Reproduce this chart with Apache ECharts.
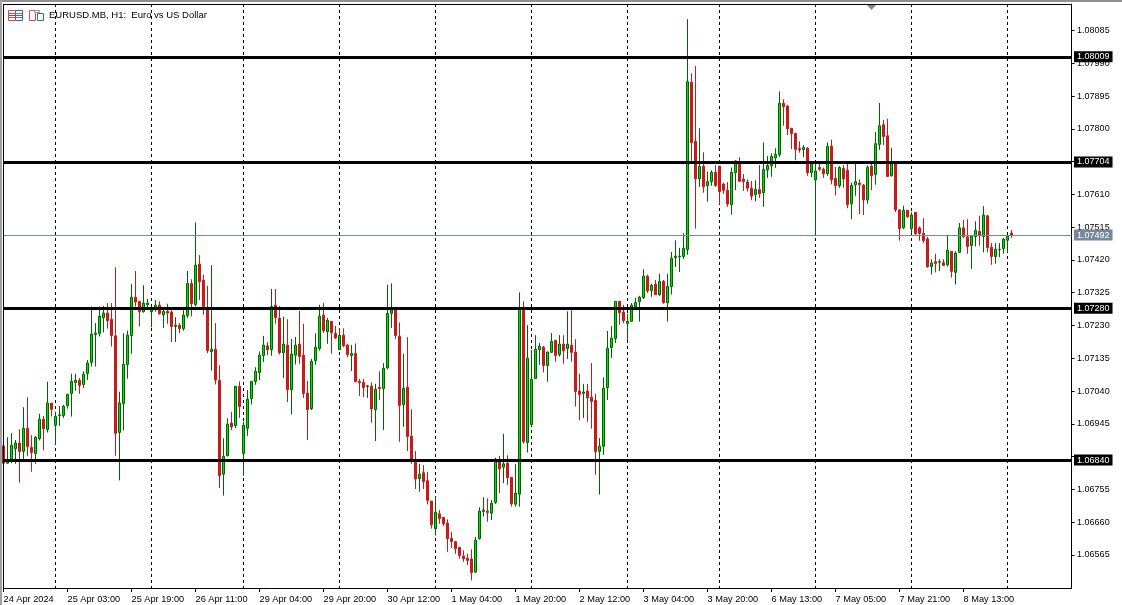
<!DOCTYPE html>
<html>
<head>
<meta charset="utf-8">
<title>EURUSD.MB, H1</title>
<script src="https://cdn.jsdelivr.net/npm/echarts@6/dist/echarts.min.js"></script>
<style>
  html, body { margin: 0; padding: 0; background: #fff; }
  #chart { width: 1122px; height: 605px; }
</style>
</head>
<body>
<div id="chart"></div>
<script>
// hourly bars, 24 Apr 11:00 to 9 May 01:00, one row = 10 bars
const opens = [
  1.06881,1.06831,1.06839,1.06873,1.06889,1.06865,1.06932,1.06877,1.06859,1.06902,
  1.06958,1.06928,1.07005,1.06941,1.06969,1.06969,1.06998,1.07033,1.07065,1.07071,
  1.07059,1.07091,1.07123,1.07204,1.07207,1.07253,1.07266,1.07248,1.07200,1.06920,
  1.07004,1.07117,1.07201,1.07312,1.07300,1.07270,1.07290,1.07270,1.07280,1.07289,
  1.07261,1.07271,1.07269,1.07227,1.07231,1.07221,1.07259,1.07352,1.07291,1.07408,
  1.07361,1.07275,1.07154,1.07161,1.07071,1.06799,1.06853,1.06947,1.06939,1.07054,
  1.06859,1.06932,1.07018,1.07068,1.07094,1.07143,1.07171,1.07160,1.07289,1.07251,
  1.07151,1.07173,1.07044,1.07144,1.07176,1.07144,1.07034,1.06989,1.07128,1.07163,
  1.07260,1.07212,1.07242,1.07207,1.07160,1.07202,1.07173,1.07143,1.07149,1.07068,
  1.07065,1.07053,1.07054,1.06986,1.07051,1.07047,1.07107,1.07265,1.07277,1.07199,
  1.07001,1.07051,1.06909,1.06836,1.06786,1.06803,1.06780,1.06721,1.06641,1.06684,
  1.06674,1.06657,1.06613,1.06603,1.06587,1.06562,1.06555,1.06553,1.06515,1.06612,
  1.06691,1.06692,1.06686,1.06717,1.06838,1.06819,1.06831,1.06790,1.06712,1.06741,
  1.07280,1.06891,1.06943,1.07076,1.07160,1.07167,1.07114,1.07152,1.07187,1.07146,
  1.07176,1.07163,1.07173,1.07153,1.07040,1.07033,1.07040,1.07022,1.07013,1.06865,
  1.06880,1.07050,1.07166,1.07192,1.07300,1.07269,1.07236,1.07242,1.07285,1.07299,
  1.07311,1.07373,1.07331,1.07350,1.07319,1.07358,1.07296,1.07343,1.07427,1.07429,
  1.07430,1.07450,1.07935,1.07764,1.07655,1.07692,1.07635,1.07647,1.07674,1.07692,
  1.07640,1.07622,1.07580,1.07673,1.07703,1.07654,1.07646,1.07628,1.07609,1.07624,
  1.07615,1.07681,1.07693,1.07716,1.07725,1.07874,1.07866,1.07802,1.07787,1.07743,
  1.07740,1.07744,1.07673,1.07652,1.07688,1.07683,1.07670,1.07750,1.07656,1.07635,
  1.07685,1.07680,1.07583,1.07638,1.07643,1.07637,1.07594,1.07692,1.07668,1.07755,
  1.07812,1.07780,1.07664,1.07699,1.07565,1.07513,1.07564,1.07511,1.07558,1.07513,
  1.07497,1.07481,1.07401,1.07415,1.07413,1.07412,1.07406,1.07445,1.07384,1.07442,
  1.07513,1.07487,1.07462,1.07488,1.07503,1.07488,1.07548,1.07457,1.07430,1.07450,
  1.07453,1.07477,1.07498
]
const closes = [
  1.06831,1.06836,1.06883,1.06889,1.06865,1.06932,1.06879,1.06862,1.06906,1.06958,
  1.06931,1.07005,1.06987,1.06967,1.06971,1.06996,1.07031,1.07068,1.07071,1.07056,
  1.07089,1.07121,1.07205,1.07208,1.07257,1.07266,1.07244,1.07201,1.06917,1.07005,
  1.07118,1.07202,1.07312,1.07298,1.07270,1.07295,1.07295,1.07275,1.07289,1.07264,
  1.07271,1.07266,1.07227,1.07231,1.07221,1.07260,1.07352,1.07293,1.07405,1.07357,
  1.07285,1.07157,1.07161,1.07072,1.06795,1.06851,1.06944,1.06936,1.07054,1.06995,
  1.06941,1.07016,1.07068,1.07097,1.07144,1.07173,1.07160,1.07285,1.07253,1.07151,
  1.07176,1.07044,1.07147,1.07173,1.07140,1.07033,1.06986,1.07126,1.07167,1.07257,
  1.07215,1.07245,1.07209,1.07194,1.07202,1.07171,1.07146,1.07149,1.07067,1.07064,
  1.07050,1.07055,1.06988,1.07045,1.07047,1.07106,1.07265,1.07275,1.07201,1.06998,
  1.07048,1.06908,1.06840,1.06785,1.06799,1.06777,1.06723,1.06652,1.06689,1.06670,
  1.06655,1.06612,1.06604,1.06583,1.06563,1.06554,1.06549,1.06514,1.06608,1.06692,
  1.06695,1.06688,1.06715,1.06843,1.06814,1.06829,1.06789,1.06713,1.06744,1.07280,
  1.06893,1.07135,1.07074,1.07161,1.07170,1.07114,1.07153,1.07184,1.07143,1.07176,
  1.07157,1.07176,1.07152,1.07039,1.07030,1.07037,1.07021,1.07010,1.06865,1.06880,
  1.07048,1.07164,1.07193,1.07300,1.07267,1.07244,1.07242,1.07289,1.07297,1.07312,
  1.07373,1.07330,1.07347,1.07319,1.07358,1.07296,1.07343,1.07425,1.07431,1.07431,
  1.07453,1.07937,1.07760,1.07655,1.07691,1.07632,1.07647,1.07674,1.07636,1.07618,
  1.07622,1.07582,1.07674,1.07707,1.07648,1.07647,1.07628,1.07605,1.07624,1.07612,
  1.07682,1.07694,1.07720,1.07726,1.07874,1.07864,1.07800,1.07786,1.07741,1.07739,
  1.07746,1.07673,1.07700,1.07678,1.07683,1.07670,1.07749,1.07652,1.07635,1.07688,
  1.07655,1.07580,1.07636,1.07647,1.07638,1.07594,1.07688,1.07664,1.07757,1.07809,
  1.07778,1.07662,1.07699,1.07565,1.07511,1.07564,1.07545,1.07550,1.07496,1.07497,
  1.07476,1.07400,1.07411,1.07410,1.07415,1.07404,1.07448,1.07387,1.07440,1.07513,
  1.07487,1.07459,1.07489,1.07506,1.07490,1.07550,1.07456,1.07430,1.07451,1.07451,
  1.07480,1.07489,1.07492
]
const lows = [
  1.06829,1.06829,1.06831,1.06829,1.06774,1.06842,1.06852,1.06806,1.06829,1.06897,
  1.06868,1.06920,1.06966,1.06885,1.06939,1.06962,1.06989,1.06966,1.07041,1.07032,
  1.07049,1.07072,1.07111,1.07111,1.07198,1.07210,1.07221,1.07169,1.06852,1.06781,
  1.06926,1.07076,1.07148,1.07285,1.07227,1.07267,1.07280,1.07225,1.07270,1.07261,
  1.07223,1.07235,1.07182,1.07182,1.07208,1.07215,1.07252,1.07256,1.07285,1.07304,
  1.07261,1.07150,1.07099,1.07059,1.06759,1.06737,1.06850,1.06927,1.06933,1.06962,
  1.06794,1.06910,1.07001,1.07058,1.07072,1.07124,1.07144,1.07142,1.07235,1.07146,
  1.07078,1.07008,1.06972,1.07117,1.07119,1.07020,1.06898,1.06985,1.07116,1.07157,
  1.07208,1.07177,1.07148,1.07191,1.07159,1.07167,1.07138,1.07098,1.07066,1.07026,
  1.07022,1.07020,1.06948,1.06895,1.07014,1.06927,1.07103,1.07223,1.07191,1.06893,
  1.06936,1.06866,1.06829,1.06756,1.06748,1.06756,1.06711,1.06641,1.06621,1.06655,
  1.06649,1.06574,1.06585,1.06568,1.06554,1.06545,1.06535,1.06491,1.06514,1.06609,
  1.06676,1.06661,1.06666,1.06713,1.06744,1.06773,1.06768,1.06705,1.06705,1.06705,
  1.06887,1.06862,1.06937,1.07075,1.07116,1.07094,1.07067,1.07152,1.07125,1.07140,
  1.07119,1.07133,1.07125,1.06995,1.06955,1.06962,1.06951,1.06931,1.06797,1.06740,
  1.06855,1.07014,1.07136,1.07179,1.07232,1.07237,1.07188,1.07241,1.07279,1.07241,
  1.07307,1.07324,1.07313,1.07319,1.07316,1.07293,1.07241,1.07320,1.07400,1.07385,
  1.07423,1.07435,1.07704,1.07511,1.07632,1.07615,1.07589,1.07635,1.07632,1.07582,
  1.07611,1.07574,1.07551,1.07622,1.07646,1.07620,1.07618,1.07593,1.07590,1.07600,
  1.07574,1.07658,1.07661,1.07687,1.07719,1.07809,1.07782,1.07741,1.07709,1.07731,
  1.07718,1.07664,1.07660,1.07492,1.07678,1.07658,1.07664,1.07639,1.07607,1.07629,
  1.07629,1.07570,1.07538,1.07606,1.07553,1.07550,1.07583,1.07622,1.07638,1.07739,
  1.07753,1.07662,1.07662,1.07559,1.07476,1.07510,1.07542,1.07498,1.07493,1.07476,
  1.07469,1.07397,1.07378,1.07384,1.07388,1.07403,1.07401,1.07369,1.07349,1.07440,
  1.07483,1.07438,1.07394,1.07459,1.07461,1.07442,1.07442,1.07406,1.07409,1.07428,
  1.07438,1.07442,1.07484
]
const highs = [
  1.06881,1.06906,1.06918,1.06898,1.06929,1.06993,1.07022,1.06912,1.06910,1.06974,
  1.06968,1.07067,1.07005,1.06980,1.06997,1.07000,1.07031,1.07090,1.07090,1.07078,
  1.07097,1.07130,1.07285,1.07237,1.07285,1.07287,1.07295,1.07295,1.07399,1.07038,
  1.07208,1.07215,1.07351,1.07388,1.07300,1.07347,1.07307,1.07285,1.07304,1.07300,
  1.07280,1.07293,1.07280,1.07254,1.07237,1.07280,1.07388,1.07364,1.07529,1.07434,
  1.07377,1.07345,1.07405,1.07237,1.07115,1.06903,1.06961,1.06980,1.07054,1.07068,
  1.06951,1.07043,1.07068,1.07109,1.07155,1.07200,1.07182,1.07336,1.07336,1.07287,
  1.07255,1.07248,1.07191,1.07197,1.07272,1.07235,1.07069,1.07133,1.07207,1.07290,
  1.07295,1.07252,1.07242,1.07229,1.07222,1.07222,1.07177,1.07173,1.07178,1.07075,
  1.07075,1.07058,1.07065,1.07061,1.07097,1.07121,1.07348,1.07352,1.07277,1.07239,
  1.07148,1.07196,1.06987,1.06866,1.06829,1.06825,1.06806,1.06721,1.06734,1.06695,
  1.06674,1.06668,1.06632,1.06606,1.06587,1.06578,1.06568,1.06581,1.06617,1.06703,
  1.06732,1.06729,1.06724,1.06847,1.06852,1.06916,1.06854,1.06790,1.06828,1.07326,
  1.07300,1.07231,1.07159,1.07202,1.07179,1.07171,1.07154,1.07208,1.07187,1.07202,
  1.07202,1.07271,1.07277,1.07190,1.07090,1.07061,1.07061,1.07121,1.07032,1.06904,
  1.07080,1.07214,1.07228,1.07300,1.07300,1.07290,1.07264,1.07295,1.07310,1.07316,
  1.07393,1.07377,1.07351,1.07362,1.07380,1.07362,1.07380,1.07443,1.07477,1.07455,
  1.07497,1.08118,1.07961,1.07982,1.07802,1.07732,1.07676,1.07680,1.07695,1.07692,
  1.07644,1.07646,1.07688,1.07709,1.07718,1.07669,1.07654,1.07649,1.07651,1.07695,
  1.07761,1.07721,1.07729,1.07744,1.07909,1.07886,1.07870,1.07802,1.07787,1.07764,
  1.07753,1.07747,1.07704,1.07703,1.07698,1.07688,1.07761,1.07769,1.07690,1.07692,
  1.07695,1.07704,1.07644,1.07698,1.07654,1.07640,1.07694,1.07698,1.07791,1.07875,
  1.07826,1.07829,1.07745,1.07699,1.07567,1.07577,1.07564,1.07558,1.07558,1.07517,
  1.07541,1.07487,1.07422,1.07438,1.07422,1.07422,1.07493,1.07445,1.07445,1.07527,
  1.07536,1.07538,1.07491,1.07532,1.07548,1.07576,1.07550,1.07469,1.07469,1.07469,
  1.07484,1.07492,1.07507
]

const tickLabels = ['24 Apr 2024', '25 Apr 03:00', '25 Apr 19:00', '26 Apr 11:00', '29 Apr 04:00', '29 Apr 20:00',
  '30 Apr 12:00', '1 May 04:00', '1 May 20:00', '2 May 12:00', '3 May 04:00', '3 May 20:00',
  '6 May 13:00', '7 May 05:00', '7 May 21:00', '8 May 13:00']
const priceTicks = [1.08085, 1.0799, 1.07895, 1.078, 1.07705, 1.0761, 1.07515, 1.0742, 1.07325,
  1.0723, 1.07135, 1.0704, 1.06945, 1.0685, 1.06755, 1.0666, 1.06565]
// these two sit under a level box, the terminal does not print them
const hiddenPriceLabels = [1.07705, 1.0685]
const levels = [1.08009, 1.07704, 1.0728, 1.0684]
const lastPrice = 1.07492
// bar number of each midnight, the dashed day separators
const dayStarts = [13, 37, 60, 84, 108, 132, 156, 179, 203, 227, 251]
const labelEvery = 16
const slotCount = 268 // the chart leaves empty slots right of the last bar

const chartFont = 'Liberation Sans'
const categories = Array.from({ length: slotCount }, (_, i) => String(i))
const candles = opens.map((o, i) => [o, closes[i], lows[i], highs[i]])
const hasLabel = i => i % labelEvery === 0 && i / labelEvery < tickLabels.length

const levelLines = levels.map(v => ({
  yAxis: v,
  lineStyle: { color: '#000', width: 3, type: 'solid' },
  label: { formatter: v.toFixed(5), backgroundColor: '#000' }
}))
const lastLine = {
  yAxis: lastPrice,
  lineStyle: { color: '#778899', width: 1, type: 'solid' },
  label: { formatter: lastPrice.toFixed(5), backgroundColor: '#778899' }
}

const chart = echarts.init(document.getElementById('chart'))
chart.setOption({
  animation: false,
  backgroundColor: '#fff',
  grid: { left: 3.6, top: 4, width: 1068, height: 584 },
  xAxis: {
    type: 'category',
    data: categories,
    boundaryGap: false,
    axisLine: { lineStyle: { color: '#000', width: 1 } },
    axisTick: {
      length: 4,
      lineStyle: { color: '#000' },
      interval: hasLabel
    },
    axisLabel: {
      color: '#000',
      fontFamily: chartFont,
      fontSize: 9.2,
      margin: 7,
      align: 'left',
      interval: hasLabel,
      formatter: v => tickLabels[Number(v) / labelEvery]
    },
    splitLine: {
      show: true,
      interval: i => dayStarts.includes(i),
      lineStyle: { color: '#000', width: 1, type: [3, 3] }
    }
  },
  yAxis: {
    type: 'value',
    position: 'right',
    min: 1.06469,
    max: 1.08162,
    axisLine: { show: true, lineStyle: { color: '#000', width: 1 } },
    axisTick: {
      show: true,
      length: 3,
      lineStyle: { color: '#000' },
      customValues: priceTicks
    },
    axisLabel: {
      color: '#000',
      fontFamily: chartFont,
      fontSize: 9,
      margin: 5.5,
      padding: [1, 0, 0, 0],
      customValues: priceTicks.filter(v => !hiddenPriceLabels.includes(v)),
      formatter: v => v.toFixed(5)
    },
    splitLine: { show: false }
  },
  series: [{
    type: 'candlestick',
    data: candles,
    barWidth: 3,
    large: false,
    silent: true,
    z: 3,
    itemStyle: {
      color: '#00E000',
      color0: '#D01A1A',
      borderColor: '#006400',
      borderColor0: '#C01C1C',
      borderWidth: 1
    }
  }, {
    // empty series, only carries the horizontal price levels
    type: 'line',
    data: [],
    silent: true,
    z: 5,
    markLine: {
      silent: true,
      precision: 5,
      symbol: ['none', 'none'],
      animation: false,
      label: {
        show: true,
        position: 'end',
        distance: 2.4,
        color: '#fff',
        fontFamily: chartFont,
        fontSize: 9,
        lineHeight: 9,
        padding: [1, 3, 1, 3]
      },
      data: [lastLine].concat(levelLines)
    }
  }],
  graphic: [
    // window frame
    { type: 'rect', z: 100, shape: { x: 0, y: 0, width: 1122, height: 2 }, style: { fill: '#909090' } },
    { type: 'rect', z: 100, shape: { x: 0, y: 0, width: 2, height: 605 }, style: { fill: '#a0a0a0' } },
    { type: 'rect', z: 100, shape: { x: 3, y: 4, width: 1069, height: 1 }, style: { fill: '#000' } },
    { type: 'rect', z: 100, shape: { x: 3, y: 4, width: 1, height: 585 }, style: { fill: '#000' } },
    { type: 'polygon', z: 100, shape: { points: [[867, 5], [876, 5], [871.5, 10]] }, style: { fill: '#778899' } },
    // header icons
    { type: 'rect', z: 100, shape: { x: 8.5, y: 10.5, width: 7, height: 10 }, style: { fill: '#fff', stroke: '#e8453c' } },
    { type: 'rect', z: 100, shape: { x: 15.5, y: 10.5, width: 7, height: 10 }, style: { fill: '#fff', stroke: '#1f6fb5' } },
    { type: 'line', z: 100, shape: { x1: 9, y1: 13.5, x2: 22, y2: 13.5 }, style: { stroke: '#e8453c' } },
    { type: 'line', z: 100, shape: { x1: 9, y1: 15.5, x2: 22, y2: 15.5 }, style: { stroke: '#1f6fb5' } },
    { type: 'line', z: 100, shape: { x1: 9, y1: 17.5, x2: 22, y2: 17.5 }, style: { stroke: '#e8453c' } },
    { type: 'rect', z: 100, shape: { x: 29.5, y: 10.5, width: 6, height: 10 }, style: { fill: '#fff', stroke: '#e8453c' } },
    { type: 'rect', z: 100, shape: { x: 37.5, y: 13.5, width: 6, height: 7 }, style: { fill: '#fff', stroke: '#1f6fb5' } },
    { type: 'rect', z: 100, shape: { x: 34.5, y: 10.5, width: 5, height: 2 }, style: { fill: '#fff', stroke: '#999' } },
    {
      type: 'text', z: 100, left: 49, top: 10,
      style: { text: 'EURUSD.MB, H1:  Euro vs US Dollar', fill: '#000', font: '9.5px "Liberation Sans"' }
    }
  ]
})
</script>
</body>
</html>
